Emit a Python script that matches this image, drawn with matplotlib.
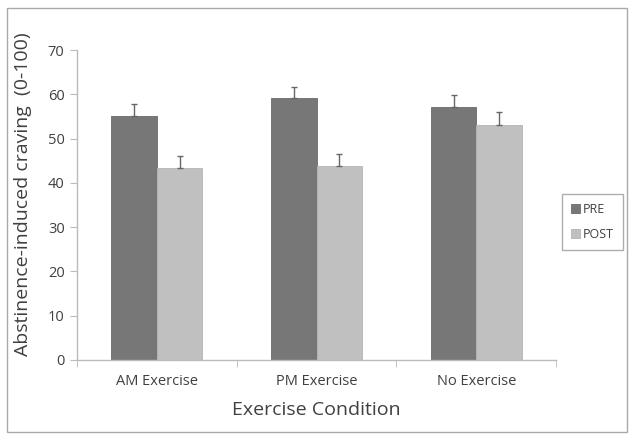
import numpy as np
import matplotlib.pyplot as plt
from matplotlib.patches import Rectangle

# Data
conditions = ["AM Exercise", "PM Exercise", "No Exercise"]
pre = [55.2, 59.1, 57.1]
post = [43.3, 43.9, 53.1]
pre_err = [2.7, 2.5, 2.7]
post_err = [2.8, 2.7, 3.0]
yticks = [0, 10, 20, 30, 40, 50, 60, 70]

plt.rcParams['font.family'] = ['Open Sans', 'DejaVu Sans']
text_color = '#404040'

fig = plt.figure(figsize=(6.32, 4.4), dpi=100)
ax = fig.add_axes([0.122, 0.182, 0.758, 0.704])

x = np.arange(len(conditions))
w = 0.285
ax.bar(x - w / 2, pre, w, color='#777777', edgecolor='#6a6a6a', linewidth=0.6,
       label='PRE', zorder=2)
ax.bar(x + w / 2, post, w, color='#c0c0c0', edgecolor='#b5b5b5', linewidth=0.6,
       label='POST', zorder=2)
ax.errorbar(x - w / 2, pre, yerr=[np.zeros(3), pre_err], fmt='none',
            ecolor='#666666', elinewidth=1, capsize=2, capthick=1, zorder=3)
ax.errorbar(x + w / 2, post, yerr=[np.zeros(3), post_err], fmt='none',
            ecolor='#666666', elinewidth=1, capsize=2, capthick=1, zorder=3)

ax.set_xlim(-0.5, 2.5)
ax.set_ylim(0, 70)
ax.set_yticks(yticks)
ax.set_xticks(x)
ax.set_xticklabels(conditions)
ax.set_xticks([-0.5, 0.5, 1.5, 2.5], minor=True)
ax.tick_params(axis='x', which='major', length=0, pad=10, labelsize=10.5,
               labelcolor=text_color)
ax.tick_params(axis='x', which='minor', length=5, color='#bbbbbb', direction='out')
ax.tick_params(axis='y', length=5, color='#bbbbbb', labelsize=10.5,
               labelcolor=text_color, pad=4)

for side in ['top', 'right']:
    ax.spines[side].set_visible(False)
for side in ['left', 'bottom']:
    ax.spines[side].set_color('#bbbbbb')
    ax.spines[side].set_linewidth(1)

ax.set_ylabel("Abstinence-induced craving  (0-100)", fontsize=14,
              color=text_color)
ax.yaxis.set_label_coords(-0.094, 0.535)
ax.set_xlabel("Exercise Condition", fontsize=14, color=text_color, labelpad=9)

leg = fig.legend(loc='upper left', bbox_to_anchor=(562 / 632, 1 - 194 / 440),
                 frameon=True, fancybox=False, fontsize=9, handlelength=0.7,
                 handleheight=0.7, handletextpad=0.3, borderpad=0.7,
                 labelspacing=1.0, borderaxespad=0)
leg.get_frame().set_edgecolor('#999999')
leg.get_frame().set_linewidth(1)
for t in leg.get_texts():
    t.set_color(text_color)

# outer border around the chart area
fig.patches.append(Rectangle((7 / 632, 8 / 440), 620 / 632, 424 / 440,
                             transform=fig.transFigure, fill=False,
                             edgecolor='#aaaaaa', linewidth=1))

fig.savefig("out.png", dpi=100)
